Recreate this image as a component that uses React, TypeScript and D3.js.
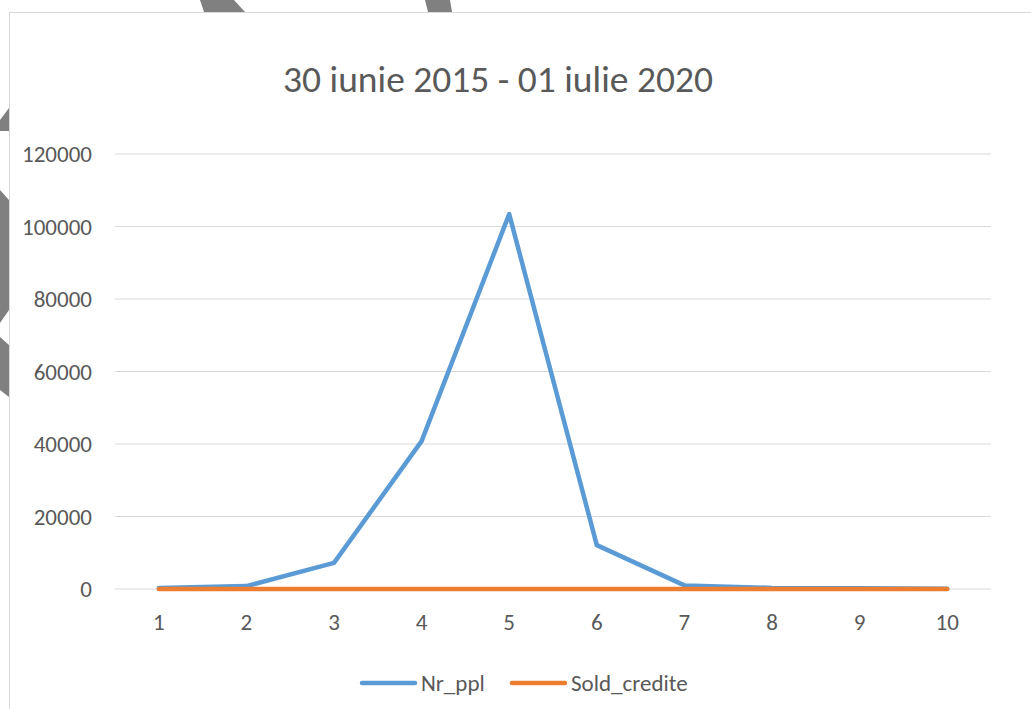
import React from "react";
import * as d3 from "d3";

const categories = ["1", "2", "3", "4", "5", "6", "7", "8", "9", "10"];
const nrPpl = [300, 800, 7200, 40800, 103400, 12100, 1000, 300, 200, 100];
const soldCredite = [0, 0, 0, 0, 0, 0, 0, 0, 0, 0];
const yTicks = [0, 20000, 40000, 60000, 80000, 100000, 120000];
const seriesNames = ["Nr_ppl", "Sold_credite"];
const colors = ["#5B9BD5", "#ED7D31"];

export default function App() {
  const W = 1031, H = 709;
  const left = 115, right = 991, top = 154, bottom = 589;
  const x = d3.scalePoint<string>().domain(categories).range([left, right]).padding(0.5);
  const y = d3.scaleLinear().domain([0, 120000]).range([bottom, top]);
  const line = d3.line<number>().x((_, i) => x(categories[i])!).y((d) => y(d));
  const font = "Carlito, Calibri, Lato, 'Open Sans', sans-serif";
  const series = [nrPpl, soldCredite];
  return (
    <svg width={W} height={H} style={{ position: "absolute", left: 0, top: 0 }} fontFamily={font}>
      <rect x={0} y={0} width={W} height={H} fill="#fff" />
      <g fill="#808080">
        <polygon points="200,0 234,0 245,12 204,12" />
        <polygon points="425,0 450,0 452,12 428,12" />
        <polygon points="0,120 9,108 9,131 0,131" />
        <polygon points="0,190 9,200 9,310 0,323" />
        <polygon points="0,337 9,345 9,397 0,390" />
      </g>
      <rect x={9.5} y={12.5} width={W + 10} height={H} fill="#fff" stroke="#d9d9d9" strokeWidth={1} />
      <text x={498} y={92} textAnchor="middle" fontSize={37.5} fill="#595959">30 iunie 2015 - 01 iulie 2020</text>
      {yTicks.map((t) => (
        <g key={t}>
          <line x1={left} x2={right} y1={y(t)} y2={y(t)} stroke="#d9d9d9" strokeWidth={1} />
          <text x={92} y={y(t)} dy="0.35em" textAnchor="end" fontSize={23} fill="#595959">{t}</text>
        </g>
      ))}
      {categories.map((c) => (
        <text key={c} x={x(c)} y={622} dy="0.35em" textAnchor="middle" fontSize={23} fill="#595959">{c}</text>
      ))}
      {series.map((s, i) => (
        <path key={i} d={line(s)!} fill="none" stroke={colors[i]} strokeWidth={4.5} strokeLinecap="round" strokeLinejoin="round" />
      ))}
      {seriesNames.map((n, i) => {
        const lx = i === 0 ? 362 : 512;
        return (
          <g key={n}>
            <line x1={lx} x2={lx + 53} y1={683} y2={683} stroke={colors[i]} strokeWidth={4.5} strokeLinecap="round" />
            <text x={lx + 59} y={683} dy="0.35em" fontSize={23} fill="#595959">{n}</text>
          </g>
        );
      })}
    </svg>
  );
}
